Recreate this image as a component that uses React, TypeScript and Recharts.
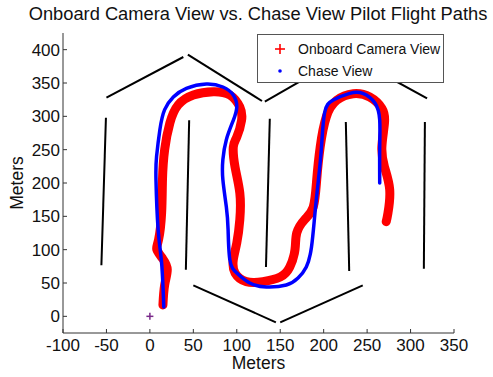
import React from 'react';
import { ScatterChart, Scatter, XAxis, YAxis, Legend } from 'recharts';

type P = { x: number; y: number };

const xTicks = [-100, -50, 0, 50, 100, 150, 200, 250, 300, 350];
const yTicks = [0, 50, 100, 150, 200, 250, 300, 350, 400];

const onboardPath: P[] = [
  { x: 15, y: 17 }, { x: 17, y: 47 }, { x: 20, y: 70 }, { x: 15, y: 86 }, { x: 8, y: 100 },
  { x: 10, y: 115 }, { x: 13.5, y: 155 }, { x: 14.5, y: 205 }, { x: 17, y: 250 }, { x: 23, y: 290 },
  { x: 32.5, y: 317 }, { x: 50, y: 332 }, { x: 73, y: 337 }, { x: 92, y: 332 }, { x: 103.5, y: 314 },
  { x: 105.5, y: 294 }, { x: 100, y: 269 }, { x: 96, y: 254 }, { x: 98, y: 224 }, { x: 103.5, y: 185 },
  { x: 103.5, y: 145 }, { x: 100, y: 110 }, { x: 96, y: 85 }, { x: 98, y: 65 }, { x: 111, y: 52 },
  { x: 130, y: 52 }, { x: 150, y: 59 }, { x: 161, y: 74 }, { x: 167, y: 100 }, { x: 169, y: 125 },
  { x: 178, y: 145 }, { x: 188, y: 164 }, { x: 192, y: 205 }, { x: 196, y: 254 }, { x: 203, y: 299 },
  { x: 215, y: 324 }, { x: 234, y: 334 }, { x: 253, y: 329 }, { x: 267, y: 312 }, { x: 270, y: 290 },
  { x: 267, y: 254 }, { x: 270, y: 224 }, { x: 276, y: 190 }, { x: 274, y: 155 }, { x: 272, y: 142 },
];

const chasePath: P[] = [
  { x: 16, y: 14 }, { x: 13.5, y: 80 }, { x: 9.5, y: 130 }, { x: 7, y: 205 }, { x: 7.7, y: 240 },
  { x: 11.5, y: 280 }, { x: 17, y: 310 }, { x: 27, y: 329 }, { x: 42, y: 342 }, { x: 65, y: 348.5 },
  { x: 84, y: 344 }, { x: 96, y: 332 }, { x: 100, y: 314 }, { x: 96, y: 294 }, { x: 88, y: 265 },
  { x: 84, y: 235 }, { x: 84, y: 205 }, { x: 88, y: 164 }, { x: 90, y: 130 }, { x: 92, y: 85 },
  { x: 100, y: 65 }, { x: 115, y: 50 }, { x: 134, y: 44 }, { x: 157, y: 47 }, { x: 170.5, y: 57.5 },
  { x: 180, y: 74 }, { x: 186, y: 104 }, { x: 190, y: 155 }, { x: 194, y: 205 }, { x: 197.5, y: 254 },
  { x: 201, y: 305 }, { x: 211, y: 324.5 }, { x: 230, y: 334.5 }, { x: 245, y: 334.5 }, { x: 259, y: 320 },
  { x: 264.5, y: 294.5 }, { x: 264.5, y: 254 }, { x: 264.5, y: 200 },
];

const originMark: P[] = [{ x: 0, y: 0 }];

// course boundary segments
const roofLeftA: P[] = [{ x: -50, y: 328 }, { x: 38.5, y: 389 }];
const roofLeftB: P[] = [{ x: 43.7, y: 392.5 }, { x: 129, y: 323 }];
const roofRightA: P[] = [{ x: 132.3, y: 322 }, { x: 223, y: 390 }];
const roofRightB: P[] = [{ x: 228, y: 392 }, { x: 319, y: 327 }];
const floorA: P[] = [{ x: 50, y: 46.5 }, { x: 145, y: -9 }];
const floorB: P[] = [{ x: 150, y: -9 }, { x: 245, y: 46.5 }];
const gateA: P[] = [{ x: -50.6, y: 298 }, { x: -55.8, y: 76.5 }];
const gateB: P[] = [{ x: 45.2, y: 294 }, { x: 41.4, y: 70 }];
const gateC: P[] = [{ x: 138, y: 296.5 }, { x: 133.6, y: 74 }];
const gateD: P[] = [{ x: 225.5, y: 291.5 }, { x: 229.4, y: 68 }];
const gateE: P[] = [{ x: 316.5, y: 291.5 }, { x: 315.3, y: 71.5 }];

const courseSegments = [roofLeftA, roofLeftB, roofRightA, roofRightB, floorA, floorB, gateA, gateB, gateC, gateD, gateE];

const FONT = '"Liberation Sans", Arial, Helvetica, sans-serif';
const TICK_FS = 17;

const NoShape = () => <g />;

const PlusShape = (props: any) => {
  const { cx, cy } = props;
  return (
    <g stroke="#7a2a8a" strokeWidth={1.5}>
      <line x1={cx - 3.5} x2={cx + 3.5} y1={cy} y2={cy} />
      <line x1={cx} x2={cx} y1={cy - 3.5} y2={cy + 3.5} />
    </g>
  );
};

const YTick = (props: any) => {
  const { x, y, payload } = props;
  return (
    <g>
      <line x1={x + 3} x2={x + 7} y1={y} y2={y} stroke="#333" strokeWidth={1} />
      <text x={x} y={y} dy="0.36em" textAnchor="end" fontSize={TICK_FS} fontFamily={FONT} fill="#111">
        {payload.value}
      </text>
    </g>
  );
};

const XTick = (props: any) => {
  const { x, y, payload } = props;
  return (
    <g>
      <line x1={x} x2={x} y1={y - 6} y2={y - 10} stroke="#333" strokeWidth={1} />
      <text x={x} y={y} dy="0.71em" textAnchor="middle" fontSize={TICK_FS} fontFamily={FONT} fill="#111">
        {payload.value}
      </text>
    </g>
  );
};

const XLabel = (props: any) => {
  const vb = props.viewBox || {};
  return (
    <text x={vb.x + vb.width / 2} y={vb.y + 36} textAnchor="middle" fontSize={17.5} fontFamily={FONT} fill="#111">
      Meters
    </text>
  );
};

const YLabel = (props: any) => {
  const vb = props.viewBox || {};
  const cx = 23;
  const cy = vb.y + vb.height / 2;
  return (
    <text x={cx} y={cy} transform={`rotate(-90 ${cx} ${cy})`} textAnchor="middle" fontSize={17.5} fontFamily={FONT} fill="#111">
      Meters
    </text>
  );
};

const LegendBox = () => (
  <div
    style={{
      background: '#fff',
      border: '1px solid #555',
      boxSizing: 'border-box',
      width: 187,
      height: 49,
      position: 'relative',
      fontFamily: FONT,
      fontSize: 14,
      color: '#111',
    }}
  >
    <svg width={20} height={44} style={{ position: 'absolute', left: 12, top: 2 }}>
      <line x1={5} x2={15} y1={12} y2={12} stroke="#ff0000" strokeWidth={1.6} />
      <line x1={10} x2={10} y1={7} y2={17} stroke="#ff0000" strokeWidth={1.6} />
      <circle cx={10} cy={34} r={1.8} fill="#0000ff" />
    </svg>
    <div style={{ position: 'absolute', left: 40, top: 5, lineHeight: '18px', whiteSpace: 'nowrap' }}>Onboard Camera View</div>
    <div style={{ position: 'absolute', left: 40, top: 27, lineHeight: '18px', whiteSpace: 'nowrap' }}>Chase View</div>
  </div>
);

export default function App() {
  return (
    <div style={{ position: 'absolute', left: 0, top: 0, width: 493, height: 377, background: '#fff' }}>
      <div
        style={{
          position: 'absolute',
          left: 0,
          top: 5,
          width: 516,
          textAlign: 'center',
          fontFamily: FONT,
          fontSize: 18.3,
          lineHeight: '18px',
          color: '#111',
          whiteSpace: 'nowrap',
          zIndex: 2,
        }}
      >
        Onboard Camera View vs. Chase View Pilot Flight Paths
      </div>
      <ScatterChart width={493} height={377} margin={{ top: 33, right: 39, bottom: 0, left: 0 }}>
        <XAxis
          type="number"
          dataKey="x"
          domain={[-100, 350]}
          ticks={xTicks}
          interval={0}
          allowDataOverflow
          height={44}
          tickSize={0}
          tickMargin={6}
          tick={<XTick />}
          axisLine={{ stroke: '#333', strokeWidth: 1 }}
          label={XLabel}
        />
        <YAxis
          type="number"
          dataKey="y"
          domain={[-25, 425]}
          ticks={yTicks}
          interval={0}
          allowDataOverflow
          width={63}
          tickSize={0}
          tickMargin={3}
          tick={<YTick />}
          axisLine={{ stroke: '#333', strokeWidth: 1 }}
          label={YLabel}
        />
        {courseSegments.map((seg, i) => (
          <Scatter
            key={`course-${i}`}
            data={seg}
            line={{ stroke: '#000', strokeWidth: 2 }}
            lineJointType="linear"
            shape={NoShape}
            legendType="none"
            isAnimationActive={false}
          />
        ))}
        <Scatter
          name="Onboard Camera View"
          data={onboardPath}
          line={{ stroke: '#ff0000', strokeWidth: 9, strokeLinecap: 'round', strokeLinejoin: 'round' }}
          lineJointType="natural"
          shape={NoShape}
          isAnimationActive={false}
        />
        <Scatter
          name="Chase View"
          data={chasePath}
          line={{ stroke: '#0000ff', strokeWidth: 3.5, strokeLinecap: 'round', strokeLinejoin: 'round' }}
          lineJointType="natural"
          shape={NoShape}
          isAnimationActive={false}
        />
        <Scatter data={originMark} shape={PlusShape} legendType="none" isAnimationActive={false} />
        <Legend
          layout="horizontal"
          verticalAlign="middle"
          align="center"
          wrapperStyle={{ left: 257, top: 34, width: 187, height: 49 }}
          content={LegendBox}
        />
      </ScatterChart>
    </div>
  );
}
